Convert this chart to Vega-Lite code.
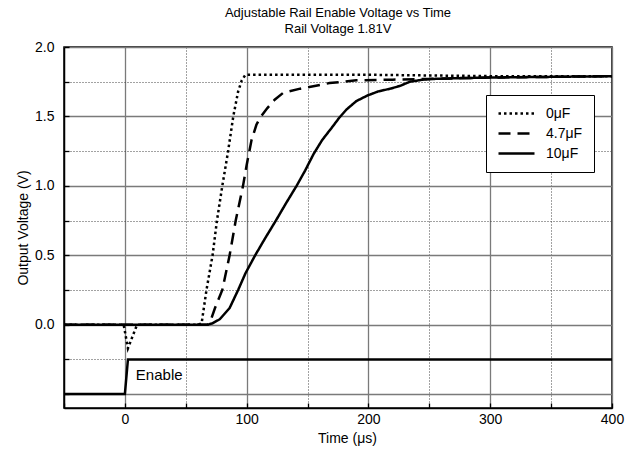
{
  "$schema": "https://vega.github.io/schema/vega-lite/v6.json",
  "width": 548,
  "height": 361,
  "autosize": {"type": "none"},
  "padding": {"left": 64, "top": 47, "right": 22, "bottom": 44},
  "background": "white",
  "title": {
    "text": ["Adjustable Rail Enable Voltage vs Time", "Rail Voltage 1.81V"],
    "font": "Liberation Sans",
    "fontSize": 13,
    "fontWeight": "normal",
    "color": "black",
    "lineHeight": 16,
    "offset": 4,
    "anchor": "middle"
  },
  "datasets": {
    "curves": [
      {"t": -50, "v": 0, "cap": "0μF"}, {"t": -5, "v": 0, "cap": "0μF"}, {"t": -1, "v": 0, "cap": "0μF"},
      {"t": 2.5, "v": -0.17, "cap": "0μF"}, {"t": 10, "v": 0, "cap": "0μF"}, {"t": 30, "v": 0, "cap": "0μF"},
      {"t": 60, "v": 0, "cap": "0μF"}, {"t": 63, "v": 0.01, "cap": "0μF"}, {"t": 67, "v": 0.25, "cap": "0μF"},
      {"t": 72, "v": 0.5, "cap": "0μF"}, {"t": 75.6, "v": 0.75, "cap": "0μF"}, {"t": 80, "v": 1.0, "cap": "0μF"},
      {"t": 84.6, "v": 1.24, "cap": "0μF"}, {"t": 89, "v": 1.5, "cap": "0μF"}, {"t": 93, "v": 1.68, "cap": "0μF"},
      {"t": 96, "v": 1.76, "cap": "0μF"}, {"t": 99, "v": 1.8, "cap": "0μF"}, {"t": 120, "v": 1.8, "cap": "0μF"},
      {"t": 160, "v": 1.8, "cap": "0μF"}, {"t": 200, "v": 1.8, "cap": "0μF"}, {"t": 250, "v": 1.795, "cap": "0μF"},
      {"t": 300, "v": 1.79, "cap": "0μF"}, {"t": 350, "v": 1.79, "cap": "0μF"}, {"t": 400, "v": 1.79, "cap": "0μF"},

      {"t": -50, "v": 0, "cap": "4.7μF"}, {"t": 68, "v": 0, "cap": "4.7μF"}, {"t": 70, "v": 0.02, "cap": "4.7μF"},
      {"t": 74, "v": 0.12, "cap": "4.7μF"}, {"t": 80, "v": 0.25, "cap": "4.7μF"}, {"t": 86, "v": 0.5, "cap": "4.7μF"},
      {"t": 91, "v": 0.75, "cap": "4.7μF"}, {"t": 97, "v": 1.0, "cap": "4.7μF"}, {"t": 100, "v": 1.15, "cap": "4.7μF"},
      {"t": 104, "v": 1.33, "cap": "4.7μF"}, {"t": 108, "v": 1.44, "cap": "4.7μF"}, {"t": 111, "v": 1.49, "cap": "4.7μF"},
      {"t": 117, "v": 1.56, "cap": "4.7μF"}, {"t": 123, "v": 1.62, "cap": "4.7μF"}, {"t": 130, "v": 1.67, "cap": "4.7μF"},
      {"t": 144, "v": 1.7, "cap": "4.7μF"}, {"t": 168, "v": 1.74, "cap": "4.7μF"}, {"t": 190, "v": 1.76, "cap": "4.7μF"},
      {"t": 220, "v": 1.765, "cap": "4.7μF"}, {"t": 250, "v": 1.77, "cap": "4.7μF"}, {"t": 300, "v": 1.78, "cap": "4.7μF"},
      {"t": 400, "v": 1.79, "cap": "4.7μF"},

      {"t": -50, "v": 0, "cap": "10μF"}, {"t": 68, "v": 0, "cap": "10μF"}, {"t": 72, "v": 0.01, "cap": "10μF"},
      {"t": 78, "v": 0.04, "cap": "10μF"}, {"t": 86, "v": 0.12, "cap": "10μF"}, {"t": 93, "v": 0.25, "cap": "10μF"},
      {"t": 99, "v": 0.37, "cap": "10μF"}, {"t": 107, "v": 0.5, "cap": "10μF"}, {"t": 115, "v": 0.62, "cap": "10μF"},
      {"t": 124, "v": 0.75, "cap": "10μF"}, {"t": 132, "v": 0.87, "cap": "10μF"}, {"t": 141, "v": 1.0, "cap": "10μF"},
      {"t": 148, "v": 1.11, "cap": "10μF"}, {"t": 155, "v": 1.23, "cap": "10μF"}, {"t": 162, "v": 1.33, "cap": "10μF"},
      {"t": 170, "v": 1.42, "cap": "10μF"}, {"t": 176, "v": 1.49, "cap": "10μF"}, {"t": 182, "v": 1.55, "cap": "10μF"},
      {"t": 190, "v": 1.61, "cap": "10μF"}, {"t": 199, "v": 1.65, "cap": "10μF"}, {"t": 208, "v": 1.68, "cap": "10μF"},
      {"t": 218, "v": 1.7, "cap": "10μF"}, {"t": 226, "v": 1.72, "cap": "10μF"}, {"t": 234, "v": 1.75, "cap": "10μF"},
      {"t": 245, "v": 1.765, "cap": "10μF"}, {"t": 253, "v": 1.77, "cap": "10μF"}, {"t": 270, "v": 1.775, "cap": "10μF"},
      {"t": 300, "v": 1.78, "cap": "10μF"}, {"t": 350, "v": 1.785, "cap": "10μF"}, {"t": 400, "v": 1.79, "cap": "10μF"}
    ],
    "enable": [
      {"t": -50, "v": -0.5}, {"t": 0, "v": -0.5}, {"t": 2.5, "v": -0.25}, {"t": 400, "v": -0.25}
    ],
    "notes": [
      {"t": 9, "v": -0.36, "label": "Enable"}
    ]
  },
  "encoding": {
    "x": {
      "field": "t", "type": "quantitative",
      "scale": {"domain": [-50, 400], "nice": false, "zero": false},
      "axis": {
        "title": "Time (μs)",
        "titleX": 283,
        "values": [-50, 0, 50, 100, 150, 200, 250, 300, 350, 400],
        "labelExpr": "datum.value % 100 === 0 ? datum.label : ''",
        "labelFlush": false,
        "labelOverlap": false,
        "grid": true,
        "gridColor": {"condition": {"test": "datum.value % 100 === 0", "value": "#7a7a7a"}, "value": "#444444"},
        "gridDash": {"condition": {"test": "datum.value % 100 === 0", "value": []}, "value": [1, 2]},
        "gridWidth": {"condition": {"test": "datum.value % 100 === 0", "value": 1.3}, "value": 1},
        "tickSize": -5,
        "tickColor": "black",
        "tickWidth": 1.3,
        "labelPadding": 9,
        "titlePadding": 5,
        "domainColor": "black",
        "domainWidth": 1.5
      }
    },
    "y": {
      "field": "v", "type": "quantitative",
      "scale": {"domain": [-0.6, 2.0], "nice": false, "zero": false},
      "axis": {
        "title": "Output Voltage (V)",
        "values": [-0.5, -0.25, 0, 0.25, 0.5, 0.75, 1, 1.25, 1.5, 1.75, 2],
        "labelExpr": "datum.value >= 0 && datum.value * 2 === round(datum.value * 2) ? format(datum.value, '.1f') : ''",
        "labelOverlap": false,
        "labelFlush": false,
        "grid": true,
        "gridColor": {"condition": {"test": "datum.value * 2 === round(datum.value * 2)", "value": "#7a7a7a"}, "value": "#444444"},
        "gridDash": {"condition": {"test": "datum.value * 2 === round(datum.value * 2)", "value": []}, "value": [1, 2]},
        "gridWidth": {"condition": {"test": "datum.value * 2 === round(datum.value * 2)", "value": 1.3}, "value": 1},
        "tickSize": -5,
        "tickColor": "black",
        "tickWidth": 1.3,
        "labelPadding": 15,
        "titlePadding": 4,
        "domainColor": "black",
        "domainWidth": 1.5
      }
    }
  },
  "layer": [
    {
      "data": {"name": "enable"},
      "mark": {"type": "line", "color": "black", "strokeWidth": 2.5, "clip": true}
    },
    {
      "data": {"name": "curves"},
      "mark": {"type": "line", "color": "black", "strokeWidth": 2.5, "strokeCap": "butt", "clip": true},
      "encoding": {
        "strokeDash": {
          "field": "cap", "type": "nominal",
          "scale": {"domain": ["0μF", "4.7μF", "10μF"], "range": [[2.5, 3], [12, 7], [1, 0]]},
          "legend": {
            "title": null,
            "orient": "none",
            "legendX": 422,
            "legendY": 48,
            "fillColor": "white",
            "strokeColor": "black",
            "padding": 11,
            "symbolType": "M-3,0H3",
            "symbolSize": 144,
            "symbolStrokeWidth": 2.5,
            "symbolStrokeColor": "black",
            "symbolFillColor": "transparent",
            "symbolOffset": 12,
            "labelOffset": 22,
            "labelFont": "Liberation Sans",
            "labelFontSize": 14,
            "labelColor": "black",
            "rowPadding": 5
          }
        }
      }
    },
    {
      "data": {"name": "notes"},
      "mark": {"type": "text", "align": "left", "baseline": "middle", "fontSize": 15, "font": "Liberation Sans", "color": "black"},
      "encoding": {"text": {"field": "label"}}
    }
  ],
  "config": {
    "font": "Liberation Sans",
    "view": {"stroke": "black", "strokeWidth": 1.5},
    "axis": {
      "labelFont": "Liberation Sans",
      "labelFontSize": 14,
      "labelColor": "black",
      "titleFont": "Liberation Sans",
      "titleFontSize": 14,
      "titleFontWeight": "normal",
      "titleColor": "black"
    }
  }
}
